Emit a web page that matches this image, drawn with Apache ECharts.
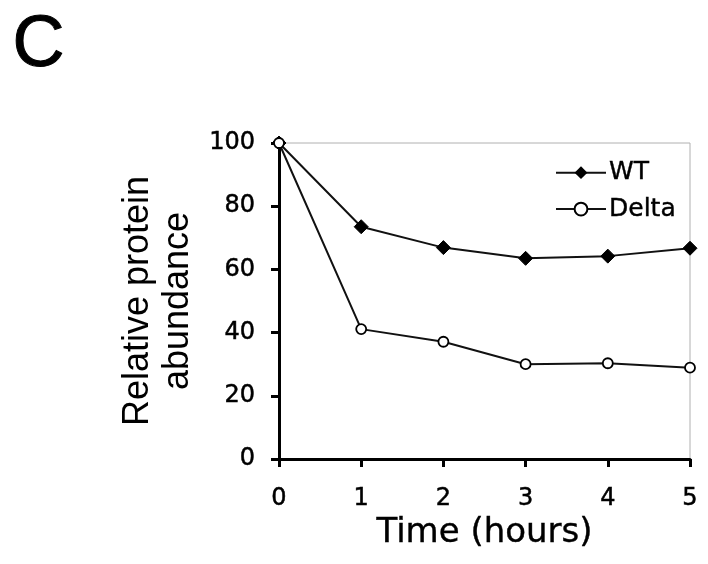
<!DOCTYPE html>
<html>
<head>
<meta charset="utf-8">
<script src="https://cdn.jsdelivr.net/npm/echarts@6/dist/echarts.min.js"></script>
<style>
  html, body { margin: 0; padding: 0; background: #fff; }
  #chart { width: 708px; height: 564px; }
</style>
</head>
<body>
<div id="chart"></div>
<script>
    // time points (hours) and relative abundance
    var hours = [0, 1, 2, 3, 4, 5];
    var wtValues = [100, 73.5, 66.9, 63.5, 64.2, 66.7];
    var deltaValues = [100, 41.1, 37.1, 30.0, 30.3, 28.9];

    var tickFont = 'DejaVu Sans, Verdana, sans-serif';
    var titleFont = 'Liberation Sans, Arial, sans-serif';

    function pairs(xs, ys) {
        var out = [];
        for (var i = 0; i < xs.length; i++) {
            out.push([xs[i], ys[i]]);
        }
        return out;
    }

    var myChart = echarts.init(document.getElementById('chart'));
    var option = {
        backgroundColor: '#fff',
        animation: false,
        textStyle: { fontFamily: tickFont, color: '#000' },
        graphic: [{
            type: 'text',
            left: 12,
            top: 10,
            style: { text: 'C', font: '72px ' + titleFont, fill: '#000', stroke: '#000', lineWidth: 1 }
        }],
        grid: {
            left: 279,
            right: 18,
            top: 143,
            bottom: 105,
            show: true,
            borderColor: '#b0b0b0',
            borderWidth: 1
        },
        legend: {
            left: 550,
            top: 155,
            orient: 'vertical',
            itemWidth: 50,
            itemHeight: 16,
            itemGap: 11,
            textStyle: {
                fontSize: 25, fontFamily: tickFont, color: '#000', padding: [0, 0, 0, -2],
                textBorderColor: '#000', textBorderWidth: 0.4
            },
            data: ['WT', 'Delta']
        },
        xAxis: {
            type: 'value',
            min: 0,
            max: 5,
            interval: 1,
            name: 'Time (hours)',
            nameLocation: 'middle',
            nameGap: 53,
            nameTextStyle: {
                fontSize: 34, fontFamily: tickFont, color: '#000',
                textBorderColor: '#000', textBorderWidth: 0.4
            },
            axisLine: { lineStyle: { color: '#000', width: 3 } },
            axisTick: { length: 8, lineStyle: { color: '#000', width: 3 } },
            axisLabel: { fontSize: 24, margin: 28, color: '#000', textBorderColor: '#000', textBorderWidth: 0.5 },
            splitLine: { show: false }
        },
        yAxis: {
            type: 'value',
            min: 0,
            max: 100,
            interval: 20,
            name: 'Relative protein\nabundance',
            nameLocation: 'middle',
            nameGap: 80,
            nameTextStyle: { fontSize: 36, fontFamily: titleFont, color: '#000', lineHeight: 40 },
            axisLine: { lineStyle: { color: '#000', width: 3 } },
            axisTick: { length: 8, lineStyle: { color: '#000', width: 3 } },
            axisLabel: { fontSize: 24, margin: 24, color: '#000', textBorderColor: '#000', textBorderWidth: 0.5 },
            splitLine: { show: false }
        },
        series: [
            {
                name: 'WT',
                type: 'line',
                data: pairs(hours, wtValues),
                symbol: 'diamond',
                symbolSize: 14,
                itemStyle: { color: '#000', borderColor: '#000' },
                lineStyle: { color: '#111', width: 2 },
                z: 3
            },
            {
                name: 'Delta',
                type: 'line',
                data: pairs(hours, deltaValues),
                symbol: 'circle',
                symbolSize: 10,
                itemStyle: { color: '#fff', borderColor: '#000', borderWidth: 1.8 },
                lineStyle: { color: '#111', width: 2 },
                z: 4
            }
        ]
    };
    myChart.setOption(option);
</script>
</body>
</html>
